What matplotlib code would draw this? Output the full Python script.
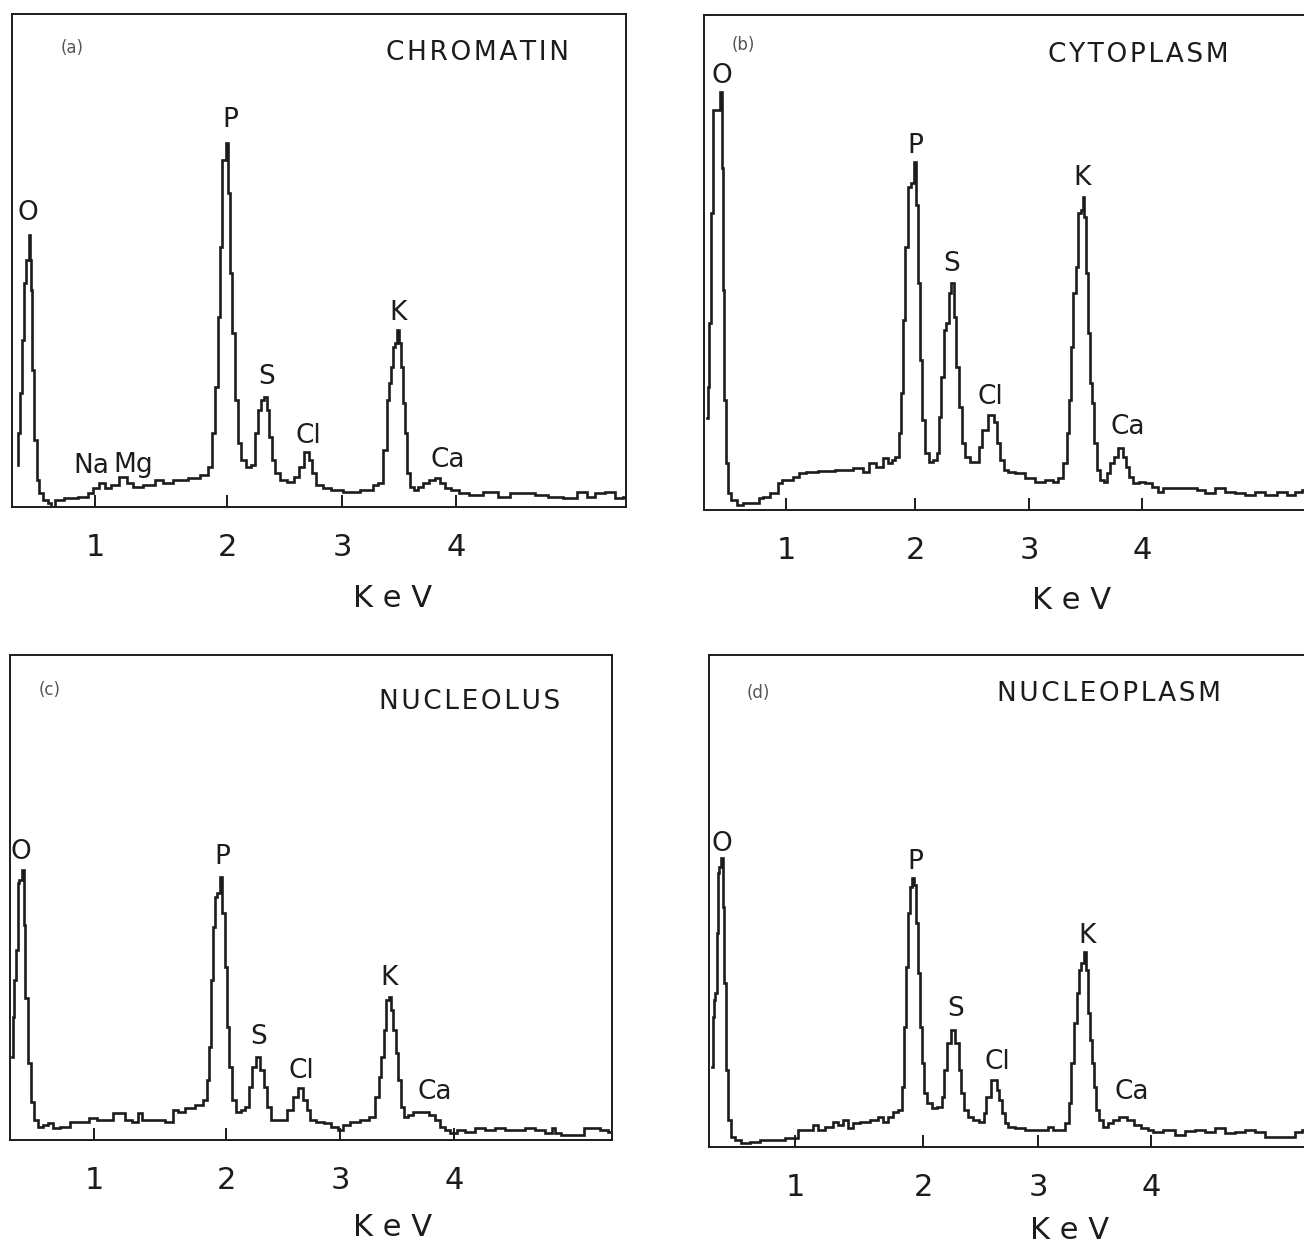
import matplotlib
matplotlib.use("Agg")
import matplotlib.pyplot as plt

plt.rcParams['font.family'] = ['DejaVu Sans']

W, H = 1304, 1245

# ---------------- data (channel, counts) ----------------
a_ch = [6, 6, 9, 11, 13, 15, 16, 17, 18, 19, 21, 23, 26, 28, 33, 38, 40, 46, 58, 73, 78, 83, 90, 95,
        103, 111, 118, 123, 138, 148, 153, 168, 183, 193, 198, 201, 204, 207, 209, 211, 213, 215, 217,
        219, 221, 224, 227, 231, 236, 241, 244, 247, 250, 253, 256, 258, 261, 265, 271, 278, 285, 288,
        295, 298, 301, 306, 315, 323, 338, 358, 363, 368, 374, 376, 378, 380, 382, 384, 386, 388, 390,
        392, 394, 396, 400, 404, 408, 413, 420, 425, 430, 435, 443, 450, 463, 478, 493, 503, 518, 528,
        543, 558, 571, 578, 588, 598, 608, 613]
a_cnt = [42, 74, 114, 167, 224, 247, 247, 272, 247, 217, 137, 67, 27, 14, 7, 4, 0, 7, 9, 10, 14, 19,
         24, 19, 22, 30, 24, 20, 22, 27, 24, 27, 29, 32, 40, 74, 120, 190, 260, 347, 347, 364, 314, 234,
         174, 107, 64, 47, 40, 42, 74, 97, 107, 110, 97, 70, 47, 34, 27, 25, 30, 40, 55, 47, 34, 22, 19,
         17, 15, 17, 22, 24, 57, 107, 124, 140, 160, 164, 177, 164, 140, 104, 74, 34, 20, 17, 20, 24, 27,
         29, 24, 19, 17, 14, 12, 15, 10, 14, 14, 12, 10, 9, 15, 10, 14, 15, 9, 10]

b_ch = [3, 4, 6, 8, 10, 13, 15, 17, 18, 19, 21, 23, 25, 29, 36, 41, 53, 56, 61, 71, 76, 80, 86, 91,
        98, 106, 121, 141, 156, 161, 168, 176, 182, 186, 189, 193, 196, 198, 200, 202, 205, 208, 211,
        213, 215, 217, 219, 222, 227, 231, 234, 236, 238, 241, 243, 246, 248, 251, 253, 256, 259, 263,
        268, 273, 276, 279, 288, 291, 294, 298, 301, 306, 316, 326, 336, 346, 351, 356, 361, 364, 366,
        368, 370, 373, 375, 378, 379, 381, 383, 385, 387, 389, 391, 394, 398, 401, 404, 408, 411, 417,
        420, 423, 426, 431, 438, 444, 451, 456, 461, 471, 489, 496, 506, 516, 526, 536, 546, 556, 566,
        579, 586, 596, 600]
b_cnt = [92, 123, 187, 297, 400, 400, 400, 418, 342, 220, 110, 47, 17, 10, 5, 7, 7, 12, 13, 17, 27,
         30, 30, 33, 37, 38, 39, 40, 42, 38, 47, 43, 52, 47, 50, 53, 77, 117, 190, 263, 323, 327, 348,
         305, 227, 150, 90, 57, 48, 50, 57, 93, 133, 180, 187, 217, 227, 193, 143, 103, 67, 53, 48, 48,
         63, 80, 95, 88, 67, 50, 40, 38, 37, 32, 28, 30, 28, 32, 47, 77, 110, 163, 217, 243, 297, 300,
         313, 293, 237, 177, 127, 107, 67, 40, 30, 28, 37, 47, 53, 62, 53, 43, 33, 27, 28, 27, 23, 18,
         22, 22, 22, 20, 17, 22, 18, 17, 15, 18, 15, 18, 15, 18, 20]

c_ch = [2, 3, 5, 7, 8, 10, 13, 14, 16, 19, 22, 25, 30, 35, 40, 45, 55, 65, 75, 83, 90, 100, 105, 112,
        118, 125, 130, 133, 150, 160, 165, 170, 180, 190, 195, 198, 200, 202, 204, 206, 208, 211, 213,
        216, 218, 220, 223, 228, 233, 237, 240, 243, 248, 252, 255, 258, 263, 273, 280, 285, 291, 295,
        298, 302, 310, 317, 325, 330, 335, 345, 355, 362, 367, 370, 372, 375, 377, 380, 382, 384, 387,
        389, 392, 395, 400, 405, 415, 422, 427, 432, 437, 443, 450, 460, 470, 480, 490, 500, 510, 520,
        530, 540, 543, 547, 555, 572, 575, 585, 595, 600]
c_cnt = [83, 123, 160, 190, 257, 260, 270, 215, 142, 77, 38, 20, 13, 15, 17, 12, 13, 18, 18, 22, 20,
         20, 27, 27, 20, 18, 27, 20, 20, 18, 30, 28, 32, 35, 40, 60, 93, 160, 213, 243, 247, 263, 227,
         173, 113, 73, 40, 28, 30, 33, 53, 73, 83, 70, 53, 33, 20, 20, 30, 43, 52, 40, 30, 20, 18, 17,
         13, 10, 15, 18, 20, 23, 43, 63, 83, 110, 140, 143, 130, 110, 87, 60, 33, 23, 25, 28, 28, 25,
         20, 13, 10, 7, 10, 8, 12, 10, 12, 10, 10, 12, 10, 7, 12, 7, 5, 5, 12, 12, 10, 8]

d_ch = [3, 4, 5, 7, 8, 9, 11, 13, 14, 16, 18, 20, 23, 28, 36, 46, 56, 66, 86, 91, 101, 106, 111, 121,
        126, 131, 136, 141, 146, 156, 166, 171, 176, 181, 186, 191, 194, 196, 198, 200, 202, 204, 206,
        208, 210, 212, 214, 216, 220, 225, 231, 234, 236, 239, 244, 248, 251, 253, 256, 261, 266, 273,
        276, 278, 286, 289, 291, 294, 297, 301, 311, 321, 336, 341, 346, 353, 358, 361, 363, 366, 369,
        371, 373, 376, 378, 380, 382, 384, 386, 388, 391, 396, 401, 406, 414, 421, 428, 436, 441, 446,
        461, 471, 481, 491, 501, 511, 521, 531, 541, 551, 561, 581, 591, 595]
d_cnt = [80, 130, 147, 154, 214, 274, 280, 289, 240, 164, 77, 27, 10, 7, 4, 5, 7, 7, 9, 17, 17, 22,
         17, 20, 25, 22, 27, 19, 24, 25, 27, 30, 25, 30, 35, 37, 60, 120, 180, 234, 260, 269, 262, 224,
         174, 120, 84, 54, 44, 39, 40, 50, 77, 104, 117, 104, 77, 54, 37, 30, 27, 25, 34, 50, 67, 57,
         47, 34, 24, 20, 19, 17, 17, 20, 17, 17, 24, 44, 84, 124, 154, 177, 184, 195, 177, 134, 107, 84,
         60, 37, 27, 20, 24, 27, 30, 27, 22, 19, 17, 15, 17, 12, 16, 17, 15, 19, 14, 15, 17, 15, 10, 10,
         15, 17]

tick_labels = ["1", "2", "3", "4"]

panels = [
    dict(box=(12, 14, 626, 507), ch=a_ch, cnt=a_cnt, ticks=[83, 215, 330, 444],
         title="CHROMATIN", title_xy=(466, 454), tag="(a)", tag_xy=(60, 459),
         peaks=[("O", 16, 294), ("Na", 79, 41), ("Mg", 121, 42), ("P", 218, 387), ("S", 255, 130),
                ("Cl", 296, 71), ("K", 386, 194), ("Ca", 436, 47)],
         kev_xy=(0.62, -0.185), right=True),
    dict(box=(704, 15, 1322, 510), ch=b_ch, cnt=b_cnt, ticks=[82, 211, 325, 438],
         title="CYTOPLASM", title_xy=(434, 455), tag="(b)", tag_xy=(39, 465),
         peaks=[("O", 18, 434), ("P", 211, 364), ("S", 248, 246), ("Cl", 286, 113),
                ("K", 378, 332), ("Ca", 424, 83)],
         kev_xy=(0.595, -0.182), right=False),
    dict(box=(10, 655, 612, 1140), ch=c_ch, cnt=c_cnt, ticks=[84, 216, 330, 444],
         title="NUCLEOLUS", title_xy=(460, 438), tag="(c)", tag_xy=(40, 450),
         peaks=[("O", 11, 288), ("P", 212, 283), ("S", 249, 103), ("Cl", 291, 69),
                ("K", 379, 162), ("Ca", 425, 48)],
         kev_xy=(0.636, -0.181), right=True),
    dict(box=(709, 655, 1325, 1147), ch=d_ch, cnt=d_cnt, ticks=[86, 214, 329, 442],
         title="NUCLEOPLASM", title_xy=(400, 453), tag="(d)", tag_xy=(49, 454),
         peaks=[("O", 13, 303), ("P", 206, 285), ("S", 247, 138), ("Cl", 288, 85),
                ("K", 378, 211), ("Ca", 423, 55)],
         kev_xy=(0.586, -0.169), right=False),
]

ink = "#1c1c1c"
HAIR = "\u200a"


def spaced(s):
    return HAIR.join(s)


fig = plt.figure(figsize=(W / 100, H / 100), dpi=100)
fig.patch.set_facecolor("white")

for p in panels:
    l, t, r, b = p["box"]
    ax = fig.add_axes([l / W, 1 - b / H, (r - l) / W, (b - t) / H])
    ax.plot(p["ch"], p["cnt"], color=ink, lw=1.9, drawstyle="steps-mid",
            solid_joinstyle="miter")
    ax.set_xlim(0, r - l)
    ax.set_ylim(0, b - t)
    ax.set_xticks(p["ticks"])
    ax.set_xticklabels(tick_labels)
    ax.set_yticks([])
    ax.tick_params(axis="x", direction="in", length=9, width=1.4, color=ink,
                   labelsize=22, pad=19, labelcolor=ink)
    for side, sp in ax.spines.items():
        sp.set_linewidth(1.4)
        sp.set_color(ink)
    if not p["right"]:
        ax.spines["right"].set_visible(False)
    ax.text(*p["title_xy"], spaced(p["title"]), ha="center", va="center",
            fontsize=19, color=ink)
    ax.text(*p["tag_xy"], p["tag"], ha="center", va="center", fontsize=12, color="#555555")
    for name, x, y in p["peaks"]:
        ax.text(x, y, name, ha="center", va="center", fontsize=19, color=ink)
    ax.text(*p["kev_xy"], "K e V", transform=ax.transAxes, ha="center", va="center",
            fontsize=22, color=ink)

fig.savefig("out.png", dpi=100, facecolor="white")
